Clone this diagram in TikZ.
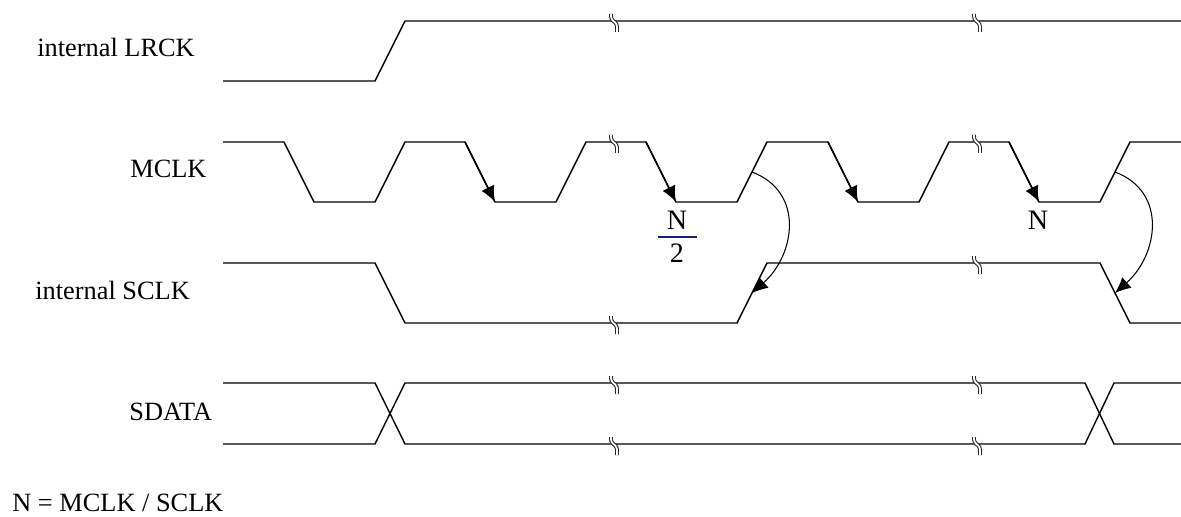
\documentclass[tikz,border=0pt]{standalone}
\usepackage{fontspec}
\setmainfont{Liberation Serif}
\usetikzlibrary{arrows.meta}
\definecolor{fracnavy}{HTML}{1C1C82}

\tikzset{
  wave/.style={line width=0.8pt, line join=miter},
  edgetip/.style={wave, -{Latex[length=9pt, width=8pt]}},
  sigbend/.style={line width=0.6pt, -{Latex[length=9pt, width=8pt]}},
  siglabel/.style={anchor=base west, inner sep=0pt, font=\fontsize{15}{18}\selectfont},
  ratio/.style={anchor=base, inner sep=0pt, font=\fontsize{16}{19}\selectfont},
  brk/.pic={\draw[double=white, double distance=1pt, line width=0.6pt,
    black!85, rounded corners=1.5pt] (-3,-7) -- (-3,-2) -- (3,3) -- (3,11);}
}

\begin{document}
\begin{tikzpicture}[x=0.02cm, y=-0.02cm]

  % one unit = one pixel of the 1181 x 517 frame, y running down
  \useasboundingbox (0,0) rectangle (1181,517);

  % ------------------------------------------------------------ signal names
  \node[siglabel] (lrcklbl)  at (37,57)  {internal LRCK};
  \node[siglabel] (mclklbl)  at (130,177) {MCLK};
  \node[siglabel] (sclklbl)  at (35,299) {internal SCLK};
  \node[siglabel] (sdatalbl) at (129,420) {SDATA};
  \node[siglabel] (ratiolbl) at (12,511) {N = MCLK / SCLK};

  % ------------------------------------------------------------ internal LRCK
  \draw[wave] (223,81) -- (375,81) -- (405,21) -- (1181,21);

  % --------------------------------------------------------------------- MCLK
  \draw[wave] (223,142) -- (284,142) -- (314,202) -- (375,202) -- (405,142)
    -- (465,142) -- (495,202) -- (556,202) -- (586,142) -- (646,142)
    -- (676,202) -- (737,202) -- (767,142) -- (828,142) -- (858,202)
    -- (919,202) -- (949,142) -- (1009,142) -- (1039,202) -- (1100,202)
    -- (1130,142) -- (1181,142);
  % counted falling edges carry a tip
  \foreach \i/\x in {1/465, 2/646, 3/828, 4/1009} {
    \coordinate (fhi\i) at (\x,142);
    \coordinate (flo\i) at (\x+30,202);
    \draw[edgetip] (fhi\i) -- (flo\i);
  }
  \node[ratio] (halfn) at (677,230) {N};
  \draw[fracnavy, line width=1.1pt] (658,237) -- (697,237);
  \node[ratio] (halftwo) at (677,262) {2};
  \node[ratio] (fulln) at (1038,230) {N};

  % ------------------------------------------------------------ internal SCLK
  \draw[wave] (223,263) -- (375,263) -- (405,323) -- (737,323) -- (767,263)
    -- (1100,263) -- (1130,323) -- (1181,323);

  % MCLK edge -> SCLK edge
  \coordinate (mrise1) at (752,172);
  \coordinate (srise1) at (752,293);
  \coordinate (mrise2) at (1115,172);
  \coordinate (sfall2) at (1115,293);
  \draw[sigbend] (mrise1) .. controls +(53,20) and +(43,-38) .. (srise1);
  \draw[sigbend] (mrise2) .. controls +(53,20) and +(43,-38) .. (sfall2);

  % -------------------------------------------------------------------- SDATA
  \draw[wave] (223,383) -- (375,383) -- (405,444) -- (1085,444) -- (1114,383)
    -- (1181,383);
  \draw[wave] (223,444) -- (375,444) -- (405,383) -- (1085,383) -- (1114,444)
    -- (1181,444);

  % ------------------------------------------------------------- time breaks
  \foreach \x/\y in {614/21, 614/142, 614/323, 614/383, 614/444,
                     977/21, 977/142, 977/263, 977/383, 977/444}
    \pic at (\x,\y) {brk};

\end{tikzpicture}
\end{document}
